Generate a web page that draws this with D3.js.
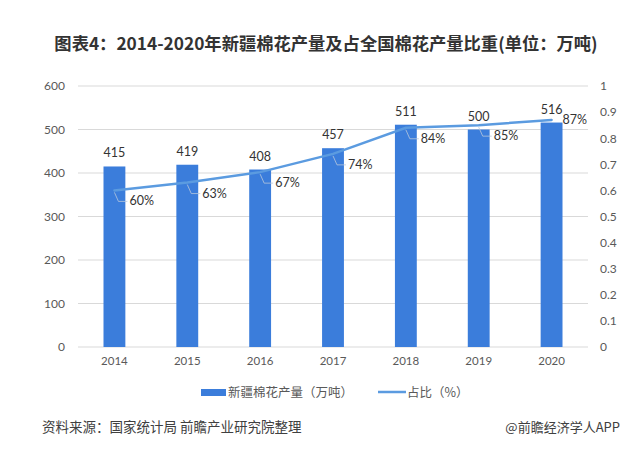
<!DOCTYPE html>
<html><head><meta charset="utf-8">
<script src="https://cdn.jsdelivr.net/npm/d3@7"></script>
<style>
body{margin:0;background:#fff;}
text{font-family:Lato,"Noto Sans CJK SC",sans-serif;}
</style></head>
<body><svg id="c" width="640" height="450"></svg>
<script>
const years = ["2014","2015","2016","2017","2018","2019","2020"];
const output = [415,419,408,457,511,500,516];
const share = [0.60,0.63,0.67,0.74,0.84,0.85,0.87];
const leftTicks = [0,100,200,300,400,500,600];
const rightTicks = [0,0.1,0.2,0.3,0.4,0.5,0.6,0.7,0.8,0.9,1];
const title = "图表4：2014-2020年新疆棉花产量及占全国棉花产量比重(单位：万吨)";
const legendBar = "新疆棉花产量（万吨）";
const legendLine = "占比（%）";
const source = "资料来源：国家统计局 前瞻产业研究院整理";
const brand = "@前瞻经济学人APP";

const barColor = "#3b7ddb", lineColor = "#5b9be0", grid = "#d9d9d9", axisText = "#595959";
const svg = d3.select("#c");
const L = 78, R = 588, T = 86, B = 347;

const x = d3.scaleBand().domain(years).range([L, R]).paddingInner(0.7).paddingOuter(0.35);
const yL = d3.scaleLinear().domain([0,600]).range([B, T]);
const yR = d3.scaleLinear().domain([0,1]).range([B, T]);

// title
svg.append("text").attr("x", 326).attr("y", 50).attr("text-anchor","middle")
  .style("font-family","'Noto Sans CJK SC',sans-serif").style("font-weight","bold")
  .style("font-size","17.3px").attr("fill","#333").text(title);

// gridlines
svg.append("g").selectAll("line").data(leftTicks).join("line")
  .attr("x1", L).attr("x2", R).attr("y1", d=>yL(d)).attr("y2", d=>yL(d))
  .attr("stroke", grid).attr("stroke-width",1);

// left axis
const ga = svg.append("g").attr("transform",`translate(${L},0)`)
  .call(d3.axisLeft(yL).tickValues(leftTicks).tickSize(0).tickPadding(13));
ga.select(".domain").remove();
ga.selectAll("text").attr("fill",axisText).style("font-size","12px").style("font-family","Lato,sans-serif");

// right axis
const gr = svg.append("g").attr("transform",`translate(${R},0)`)
  .call(d3.axisRight(yR).tickValues(rightTicks).tickSize(0).tickPadding(12).tickFormat(d3.format("~g")));
gr.select(".domain").remove();
gr.selectAll("text").attr("fill",axisText).style("font-size","12px").style("font-family","Lato,sans-serif");

// x axis
const gx = svg.append("g").attr("transform",`translate(0,${B})`)
  .call(d3.axisBottom(x).tickSize(0).tickPadding(10));
gx.select(".domain").remove();
gx.selectAll("text").attr("fill",axisText).style("font-size","11.5px").style("font-family","Lato,sans-serif");

// bars
svg.append("g").selectAll("rect").data(output).join("rect")
  .attr("x",(d,i)=>x(years[i])).attr("width",x.bandwidth())
  .attr("y",d=>yL(d)).attr("height",d=>B-yL(d)).attr("fill",barColor);

svg.append("g").selectAll("text").data(output).join("text")
  .attr("x",(d,i)=>x(years[i])+x.bandwidth()/2).attr("y",d=>yL(d)-9)
  .attr("text-anchor","middle").attr("fill","#333").style("font-size","12.5px").text(d=>d);

// line
const cx = i => x(years[i]) + x.bandwidth()/2;
const line = d3.line().x((d,i)=>cx(i)).y(d=>yR(d));
svg.append("path").datum(share).attr("d",line).attr("fill","none")
  .attr("stroke",lineColor).attr("stroke-width",2.5).attr("stroke-linecap","round");

// percent labels with leaders
const last = share.length-1;
const pl = svg.append("g");
share.forEach((d,i)=>{
  const px = cx(i), py = yR(d);
  if(i===last){
    pl.append("text").attr("x",px+11).attr("y",py+4).attr("fill","#333")
      .style("font-size","12.5px").text(Math.round(d*100)+"%");
  } else {
    pl.append("path").attr("d",`M${px},${py+2} L${px+4},${py+11} L${px+13},${py+11}`)
      .attr("fill","none").attr("stroke","#b8c8dc").attr("stroke-width",0.8);
    pl.append("text").attr("x",px+15).attr("y",py+15).attr("fill","#333")
      .style("font-size","12.5px").text(Math.round(d*100)+"%");
  }
});

// legend
const ly = 392;
svg.append("rect").attr("x",201).attr("y",ly-3).attr("width",25).attr("height",7).attr("fill",barColor);
svg.append("text").attr("x",228).attr("y",ly+5).attr("fill","#595959")
  .style("font-family","'Noto Sans CJK SC',sans-serif").style("font-size","12.5px").text(legendBar);
svg.append("line").attr("x1",378).attr("x2",406).attr("y1",ly).attr("y2",ly)
  .attr("stroke",lineColor).attr("stroke-width",2.5);
svg.append("text").attr("x",407).attr("y",ly+5).attr("fill","#595959")
  .style("font-family","'Noto Sans CJK SC',sans-serif").style("font-size","12.5px").text(legendLine);

// footer
svg.append("text").attr("x",42).attr("y",432).attr("fill","#404040")
  .style("font-family","'Noto Sans CJK SC',sans-serif").style("font-size","13.5px").text(source);
svg.append("text").attr("x",620).attr("y",432).attr("text-anchor","end").attr("fill","#404040")
  .style("font-family","'Noto Sans CJK SC',sans-serif").style("font-size","13px").text(brand);
</script></body></html>
